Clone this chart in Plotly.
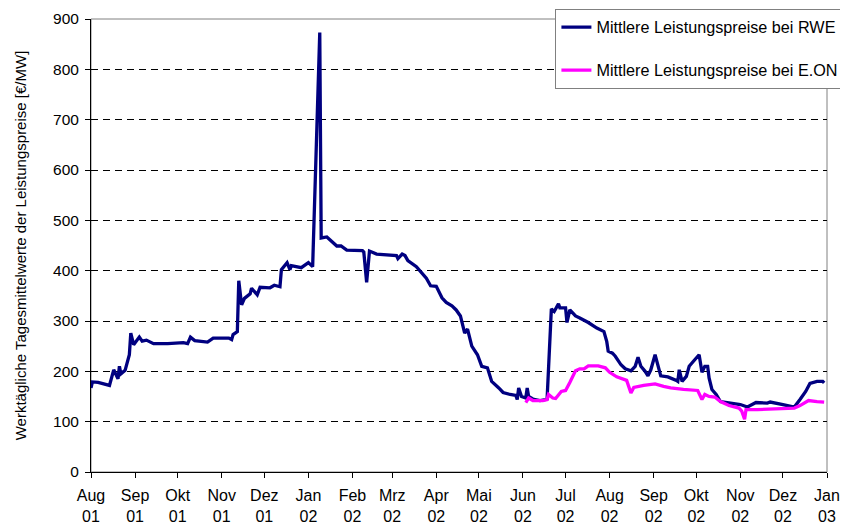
import plotly.graph_objects as go

# ---- data ----
rwe_dates = [
    "2001-08-01", "2001-08-02", "2001-08-06", "2001-08-14", "2001-08-17", "2001-08-20",
    "2001-08-21", "2001-08-22", "2001-08-25", "2001-08-28", "2001-08-29", "2001-08-31",
    "2001-09-04", "2001-09-06", "2001-09-09", "2001-09-14", "2001-09-24", "2001-10-05",
    "2001-10-08", "2001-10-10", "2001-10-13", "2001-10-22", "2001-10-26", "2001-11-06",
    "2001-11-08", "2001-11-09", "2001-11-12", "2001-11-13", "2001-11-15", "2001-11-17",
    "2001-11-21", "2001-11-22", "2001-11-26", "2001-11-28", "2001-12-05", "2001-12-08",
    "2001-12-12", "2001-12-13", "2001-12-17", "2001-12-19", "2001-12-20", "2001-12-27",
    "2002-01-01", "2002-01-04", "2002-01-09", "2002-01-10", "2002-01-14", "2002-01-18",
    "2002-01-21", "2002-01-24", "2002-01-28", "2002-02-08", "2002-02-09", "2002-02-11",
    "2002-02-13", "2002-02-18", "2002-02-25", "2002-03-04", "2002-03-05", "2002-03-08",
    "2002-03-10", "2002-03-12", "2002-03-18", "2002-03-22", "2002-03-25", "2002-03-28",
    "2002-04-01", "2002-04-05", "2002-04-08", "2002-04-12", "2002-04-15", "2002-04-18",
    "2002-04-21", "2002-04-23", "2002-04-26", "2002-04-30", "2002-05-03", "2002-05-07",
    "2002-05-10", "2002-05-15", "2002-05-18", "2002-05-23", "2002-05-27", "2002-05-28",
    "2002-05-29", "2002-05-31", "2002-06-03", "2002-06-04", "2002-06-05", "2002-06-08",
    "2002-06-13", "2002-06-17", "2002-06-18", "2002-06-21", "2002-06-23", "2002-06-26",
    "2002-06-27", "2002-07-01", "2002-07-02", "2002-07-04", "2002-07-08", "2002-07-11",
    "2002-07-17", "2002-07-23", "2002-07-28", "2002-07-30", "2002-07-31", "2002-08-03",
    "2002-08-05", "2002-08-09", "2002-08-12", "2002-08-16", "2002-08-19", "2002-08-21",
    "2002-08-23", "2002-08-26", "2002-08-28", "2002-08-30", "2002-09-02", "2002-09-06",
    "2002-09-11", "2002-09-17", "2002-09-18", "2002-09-19", "2002-09-21", "2002-09-24",
    "2002-09-26", "2002-09-29", "2002-10-03", "2002-10-05", "2002-10-07", "2002-10-09",
    "2002-10-10", "2002-10-12", "2002-10-15", "2002-10-18", "2002-10-24", "2002-11-01",
    "2002-11-06", "2002-11-12", "2002-11-20", "2002-11-22", "2002-12-01", "2002-12-09",
    "2002-12-13", "2002-12-17", "2002-12-20", "2002-12-25", "2002-12-29", "2002-12-30",
]
rwe_values = [
    167, 179, 178, 172, 203, 185,
    210, 195, 202, 233, 276, 253,
    268, 260, 262, 255, 255, 257,
    255, 268, 261, 258, 266, 266,
    263, 273, 279, 380, 332, 345,
    354, 365, 352, 367, 366, 371,
    368, 402, 416, 402, 410, 406,
    416, 408, 873, 465, 467, 456,
    449, 449, 441, 440, 437, 377,
    439, 433, 431, 430, 424, 433,
    430, 420, 408, 395, 385, 370,
    369, 346, 337, 330, 322, 310,
    276, 284, 250, 233, 210, 207,
    180, 167, 158, 154, 152, 144,
    167, 150, 147, 167, 150, 145,
    142, 144, 145, 324, 319, 334,
    326, 326, 297, 322, 310, 306,
    297, 286, 279, 259, 240, 236,
    230, 213, 205, 201, 210, 228,
    210, 200, 191, 203, 233, 191,
    189, 182, 180, 203, 180, 190,
    210, 220, 233, 198, 210, 210,
    187, 164, 154, 140, 138, 134,
    129, 138, 137, 139, 134, 129,
    144, 160, 176, 180, 180, 177,
]

eon_dates = [
    "2002-06-03", "2002-06-05", "2002-06-08", "2002-06-15", "2002-06-18", "2002-06-19",
    "2002-06-22", "2002-06-24", "2002-06-28", "2002-07-01", "2002-07-04", "2002-07-08",
    "2002-07-11", "2002-07-14", "2002-07-17", "2002-07-24", "2002-07-29", "2002-08-01",
    "2002-08-06", "2002-08-13", "2002-08-16", "2002-08-18", "2002-08-25", "2002-09-02",
    "2002-09-08", "2002-09-13", "2002-09-22", "2002-10-02", "2002-10-05", "2002-10-07",
    "2002-10-10", "2002-10-14", "2002-10-18", "2002-10-24", "2002-10-31", "2002-11-02",
    "2002-11-04", "2002-11-05", "2002-11-13", "2002-11-22", "2002-12-09", "2002-12-13",
    "2002-12-19", "2002-12-25", "2002-12-30",
]
eon_values = [
    138, 147, 142, 142, 144, 154,
    147, 146, 160, 162, 178, 201,
    205, 205, 211, 211, 207, 198,
    189, 182, 157, 168, 172, 175,
    170, 167, 164, 162, 144, 154,
    150, 149, 140, 132, 127, 121,
    105, 124, 124, 125, 127, 132,
    142, 140, 139,
]

month_ticks = [
    "2001-08-01", "2001-09-01", "2001-10-01", "2001-11-01", "2001-12-01", "2002-01-01",
    "2002-02-01", "2002-03-01", "2002-04-01", "2002-05-01", "2002-06-01", "2002-07-01",
    "2002-08-01", "2002-09-01", "2002-10-01", "2002-11-01", "2002-12-01", "2003-01-01",
]
month_labels = [
    "Aug<br>01", "Sep<br>01", "Okt<br>01", "Nov<br>01", "Dez<br>01", "Jan<br>02",
    "Feb<br>02", "Mrz<br>02", "Apr<br>02", "Mai<br>02", "Jun<br>02", "Jul<br>02",
    "Aug<br>02", "Sep<br>02", "Okt<br>02", "Nov<br>02", "Dez<br>02", "Jan<br>03",
]

series_names = ["Mittlere Leistungspreise bei RWE", "Mittlere Leistungspreise bei E.ON"]
y_title = "Werktägliche Tagesmittelwerte der Leistungspreise [€/MW]"

FONT = "Liberation Sans, Arial, sans-serif"

fig = go.Figure()
fig.add_trace(go.Scatter(x=rwe_dates, y=rwe_values, mode="lines", name=series_names[0],
                         legendgroup="a", line=dict(color="#000080", width=3.3)))
fig.add_trace(go.Scatter(x=eon_dates, y=eon_values, mode="lines", name=series_names[1],
                         legendgroup="b", line=dict(color="#FF00FF", width=3.3)))

# the page body has an 8px margin, so the figure is sized/offset to compensate
fig.update_layout(
    template="none",
    width=840, height=516,
    margin=dict(l=83, r=21, t=11, b=52, pad=0, autoexpand=False),
    paper_bgcolor="white", plot_bgcolor="white",
    font=dict(family=FONT, size=16, color="black"),
    showlegend=True,
    legend=dict(
        x=0.631, y=1.022, xanchor="left", yanchor="top",
        bgcolor="white", bordercolor="#808080", borderwidth=1,
        font=dict(family=FONT, size=16.2, color="black"),
        tracegroupgap=19, traceorder="grouped",
    ),
    shapes=[dict(type="rect", xref="paper", yref="paper", x0=0, x1=1, y0=0, y1=1,
                 line=dict(color="#808080", width=1), layer="below")],
)

fig.update_xaxes(
    type="date", range=["2001-08-01", "2003-01-01"],
    tickmode="array", tickvals=month_ticks, ticktext=month_labels,
    ticks="outside", ticklen=5, tickcolor="black", tickwidth=1,
    showline=True, linecolor="black", linewidth=1,
    showgrid=False, zeroline=False, automargin=False,
    ticklabelstandoff=4,
    tickfont=dict(family=FONT, size=16, color="black"),
)
fig.update_yaxes(
    range=[0, 900], dtick=100, tick0=0,
    ticks="outside", ticklen=5, tickcolor="black", tickwidth=1,
    showline=True, linecolor="black", linewidth=1,
    showgrid=True, gridcolor="black", gridwidth=1, griddash="7px,5px",
    zeroline=False, automargin=False,
    ticklabelstandoff=3,
    tickfont=dict(family=FONT, size=15.5, color="black"),
    title=dict(text=y_title, font=dict(family=FONT, size=15, color="black"), standoff=22),
)

fig.write_html("out.html")
